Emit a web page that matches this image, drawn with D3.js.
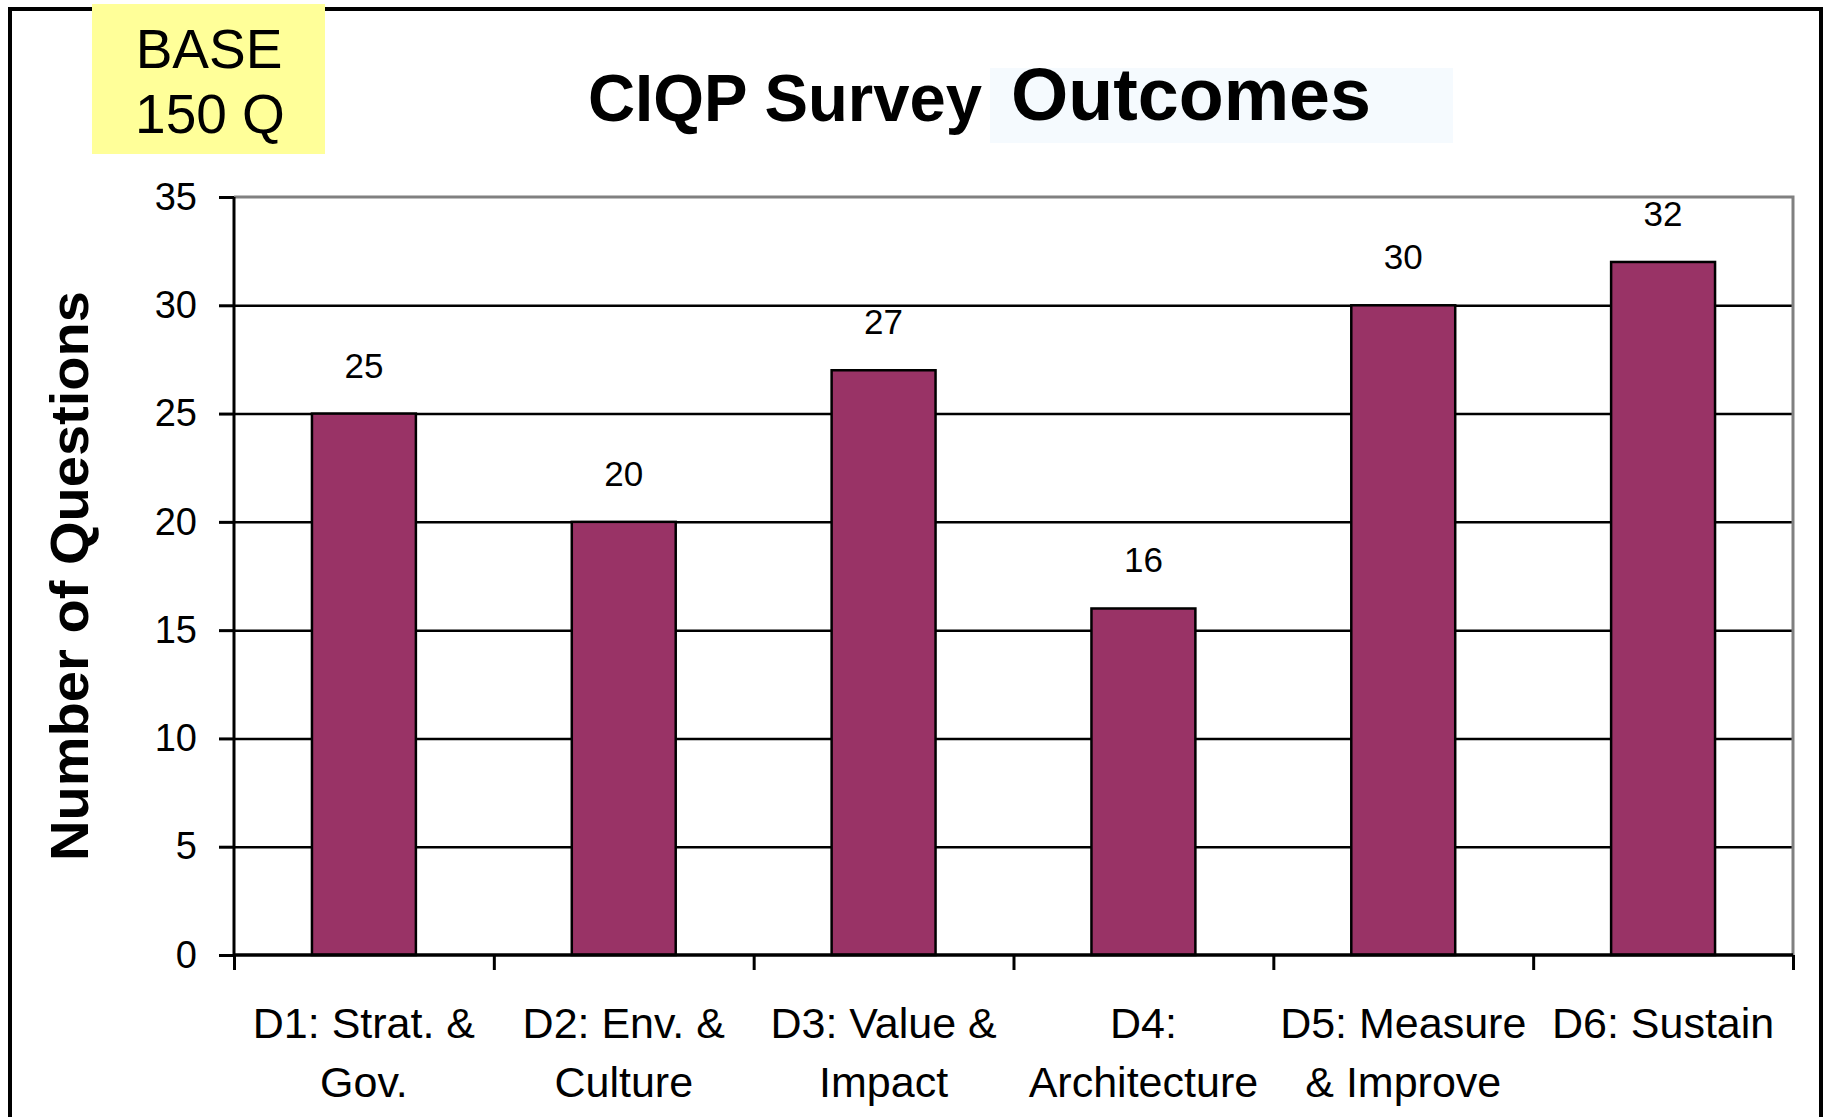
<!DOCTYPE html>
<html>
<head>
<meta charset="utf-8">
<script src="https://cdn.jsdelivr.net/npm/d3@7"></script>
<style>
  body { margin: 0; background: #fff; }
  text { font-family: "Liberation Sans", Arial, sans-serif; }
</style>
</head>
<body>
<svg id="chart" width="1827" height="1117"></svg>
<script>
// chart data
const categories = ["D1", "D2", "D3", "D4", "D5", "D6"]
const categoryLabels = [
	["D1: Strat. &", "Gov."],
	["D2: Env. &", "Culture"],
	["D3: Value &", "Impact"],
	["D4:", "Architecture"],
	["D5: Measure", "& Improve"],
	["D6: Sustain"]
]
const questionCounts = [25, 20, 27, 16, 30, 32]
const yTicks = [0, 5, 10, 15, 20, 25, 30, 35]

const svg = d3.select("#chart")

// plot area (pixels)
const plotL = 234, plotR = 1793, plotT = 197, plotB = 955

const x = d3.scaleBand()
	.domain(categories)
	.range([plotL, plotR])
	.paddingInner(0.6)
	.paddingOuter(0.3)

// boundary ticks sit between categories
const xEdge = d3.scaleLinear()
	.domain([0, categories.length])
	.range([plotL, plotR])

const y = d3.scaleLinear()
	.domain([0, 35])
	.range([plotB, plotT])

// outer frame
svg.append("path")
	.attr("d", `M10,1117 V9 H1821 V1117`)
	.style("fill", "none")
	.style("stroke", "#000")
	.style("stroke-width", 4)

// gridlines
const grid = svg.append("g")
	.attr("transform", `translate(${plotL},0)`)
	.call(d3.axisLeft(y).tickValues(yTicks.filter(d => d > 0 && d < 35)).tickSize(-(plotR - plotL)).tickFormat(""))
grid.select(".domain").remove()
grid.selectAll("line").style("stroke", "#000").style("stroke-width", 2.5)

// plot border top / right (gray)
svg.append("path")
	.attr("d", `M${plotL},${y(35)} H${plotR} V${plotB}`)
	.style("fill", "none")
	.style("stroke", "#808080")
	.style("stroke-width", 3)

// bars
svg.append("g").selectAll("rect")
	.data(questionCounts)
	.join("rect")
	.attr("x", (d, i) => x(categories[i]))
	.attr("y", d => y(d))
	.attr("width", x.bandwidth())
	.attr("height", d => y(0) - y(d))
	.style("fill", "#993366")
	.style("stroke", "#000")
	.style("stroke-width", 2.5)

// value labels
svg.append("g").selectAll("text")
	.data(questionCounts)
	.join("text")
	.attr("x", (d, i) => x(categories[i]) + x.bandwidth() / 2)
	.attr("y", d => y(d) - 36)
	.attr("text-anchor", "middle")
	.style("font-size", "35px")
	.text(d => d)

// y axis
const yAxis = svg.append("g")
	.attr("transform", `translate(${plotL},0)`)
	.call(d3.axisLeft(y).tickValues(yTicks).tickSize(15).tickPadding(22))
yAxis.select(".domain").attr("d", `M0,${y(35)}V${plotB}`).style("stroke", "#000").style("stroke-width", 3)
yAxis.selectAll("line").style("stroke", "#000").style("stroke-width", 3)
yAxis.selectAll("text")
	.style("font-family", "'Liberation Sans', Arial, sans-serif")
	.style("font-size", "38px")
	.style("fill", "#000")

// x axis
const xAxis = svg.append("g")
	.attr("transform", `translate(0,${plotB})`)
	.call(d3.axisBottom(xEdge).tickValues(d3.range(categories.length + 1)).tickSize(15).tickFormat(""))
xAxis.select(".domain").attr("d", `M${plotL},0H${plotR}`).style("stroke", "#000").style("stroke-width", 3.5)
xAxis.selectAll("line").style("stroke", "#000").style("stroke-width", 3)

// category labels
svg.append("g").selectAll("text")
	.data(categoryLabels)
	.join("text")
	.attr("x", (d, i) => x(categories[i]) + x.bandwidth() / 2)
	.attr("y", 1038)
	.attr("text-anchor", "middle")
	.style("font-size", "43px")
	.selectAll("tspan")
	.data(d => d)
	.join("tspan")
	.attr("x", function () { return this.parentNode.getAttribute("x") })
	.attr("dy", (d, i) => i === 0 ? 0 : 59)
	.text(d => d)

// y axis title
svg.append("text")
	.attr("transform", `translate(88,${(plotT + plotB) / 2}) rotate(-90)`)
	.attr("text-anchor", "middle")
	.attr("textLength", 570)
	.attr("lengthAdjust", "spacingAndGlyphs")
	.style("font-size", "54px")
	.style("font-weight", "bold")
	.text("Number of Questions")

// title
svg.append("text")
	.attr("x", 588)
	.attr("y", 121)
	.attr("textLength", 394)
	.attr("lengthAdjust", "spacingAndGlyphs")
	.style("font-size", "67px")
	.style("font-weight", "bold")
	.text("CIQP Survey")

svg.append("rect")
	.attr("x", 990).attr("y", 68)
	.attr("width", 463).attr("height", 75)
	.style("fill", "#f5fafe")

svg.append("text")
	.attr("x", 1011)
	.attr("y", 120)
	.attr("textLength", 360)
	.attr("lengthAdjust", "spacingAndGlyphs")
	.style("font-size", "75px")
	.style("font-weight", "bold")
	.text("Outcomes")

// base box
svg.append("rect")
	.attr("x", 92).attr("y", 4)
	.attr("width", 233).attr("height", 150)
	.style("fill", "#ffff99")

svg.append("text")
	.attr("x", 209)
	.attr("y", 68)
	.attr("text-anchor", "middle")
	.style("font-size", "55px")
	.text("BASE")

svg.append("text")
	.attr("x", 210)
	.attr("y", 133)
	.attr("text-anchor", "middle")
	.style("font-size", "55px")
	.text("150 Q")
</script>
</body>
</html>
